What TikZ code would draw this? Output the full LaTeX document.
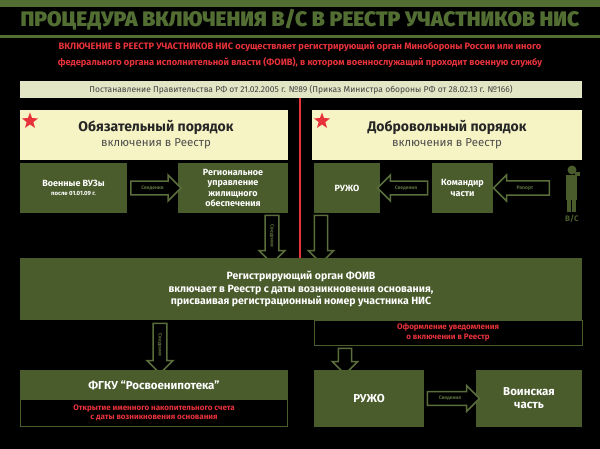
\documentclass[tikz,border=0pt]{standalone}
\usepackage{fontspec}
\setmainfont{Fira Sans}
\usetikzlibrary{shapes.geometric,shapes.arrows}
\definecolor{olive}{RGB}{74,92,44}
\definecolor{ttl}{RGB}{82,110,50}
\definecolor{beige}{RGB}{226,230,196}
\definecolor{yel}{RGB}{246,243,196}
\definecolor{rd}{RGB}{232,50,58}
\definecolor{arr}{RGB}{90,110,60}
\begin{document}
\begin{tikzpicture}[x=1pt,y=-1pt,
 gbox/.style={draw=none,fill=olive,text=white,font=\bfseries\fontsize{9}{10.5}\selectfont,align=center,inner sep=0},
 ybox/.style={fill=yel,draw=none},
 red/.style={text=rd,font=\bfseries\fontsize{8}{9.5}\selectfont,align=center},
 barr/.style={single arrow,draw=arr,line width=1.5pt,fill=black,text=arr,font=\bfseries\fontsize{5}{6}\selectfont,inner xsep=1pt,inner ysep=4pt,single arrow head extend=6pt,minimum height=#1,single arrow tip angle=90},
 rstar/.style={star,star points=5,star point ratio=2.4,fill=rd,minimum size=17pt,inner sep=0}]
\fill[black] (0,0) rectangle (600,449);
\useasboundingbox (0,0) rectangle (600,449);
\fill[ttl] (0,0) rectangle (600,7);
\fill[ttl] (0,35) rectangle (600,38);
\node[text=ttl,font=\fontspec{Fira Sans Black}\fontsize{21}{24}\selectfont] (title) at (300,20) {ПРОЦЕДУРА ВКЛЮЧЕНИЯ В/С В РЕЕСТР УЧАСТНИКОВ НИС};
\node[red,font=\bfseries\fontsize{9.3}{15.5}\selectfont] (intro) at (300,55) {ВКЛЮЧЕНИЕ В РЕЕСТР УЧАСТНИКОВ НИС осуществляет регистрирующий орган Минобороны России или иного\\федерального органа исполнительной власти (ФОИВ), в котором военнослужащий проходит военную службу};
\node[fill=beige,minimum width=562pt,minimum height=17pt,inner sep=0,font=\fontsize{8.5}{9}\selectfont,text=black!75] (law) at (301,89.5) {Постанавление Правительства РФ от 21.02.2005 г. №89 (Приказ Министра обороны РФ от 28.02.13 г. №166)};
\coordinate (lt) at (300,98); \coordinate (lb) at (300,258);
\draw[rd,line width=1.2pt] (lt) -- (lb);
% yellow boxes
\node[ybox,minimum width=268pt,minimum height=50pt,inner sep=0] (ob) at (154,135) {};
\node[ybox,minimum width=270pt,minimum height=50pt,inner sep=0] (dob) at (447,135) {};
\node[rstar] (s1) at (30,121) {};
\node[rstar] (s2) at (322,121) {};
\node[font=\bfseries\fontsize{14}{16}\selectfont,text=black!85,align=center] (obt) at (156,135) {Обязательный порядок\\[-1pt]{\mdseries\fontsize{11.5}{13}\selectfont\color{black!70} включения в Реестр}};
\node[font=\bfseries\fontsize{14}{16}\selectfont,text=black!85,align=center] (dobt) at (447,135) {Добровольный порядок\\[-1pt]{\mdseries\fontsize{11.5}{13}\selectfont\color{black!70} включения в Реестр}};
% green boxes row
\node[gbox,minimum width=107pt,minimum height=50pt] (vuz) at (73.5,188) {Военные ВУЗы\\[-1pt]{\fontsize{6}{7}\selectfont после 01.01.09 г.}};
\node[gbox,minimum width=110pt,minimum height=50pt] (reg) at (233,188) {Региональное\\управление\\жилищного\\обеспечения};
\node[gbox,minimum width=66pt,minimum height=50pt] (ruzh1) at (347,188) {РУЖО};
\node[gbox,minimum width=61pt,minimum height=50pt] (kom) at (462.5,188) {Командир\\части};
% soldier
\fill[olive] (572,170) circle (4.5);
\fill[olive] (566,175) rectangle (577,200);
\fill[olive] (567,200) rectangle (571,212);
\fill[olive] (572,200) rectangle (576,212);
\fill[olive] (575,172) rectangle (580,176);
\node[text=olive,font=\bfseries\fontsize{8}{9}\selectfont] (vs) at (572,219) {В/С};
\node[barr=50pt] (a1) at (152.5,188) {Сведения};
\node[barr=50pt,shape border rotate=180] (a2) at (406,188) {Сведения};
\node[barr=56pt,shape border rotate=180] (a3) at (525,188) {Рапорт};
\node[barr=48pt,rotate=-90] (a4) at (272,236) {Сведения};
\node[barr=48pt,rotate=-90] (a5) at (321,236) {\phantom{Св}};
% big box
\node[gbox,minimum width=562pt,minimum height=62pt,font=\bfseries\fontsize{10.5}{12.5}\selectfont] (foiv) at (301,289) {Регистрирующий орган ФОИВ\\включает в Реестр с даты возникновения основания,\\присваивая регистрационный номер участника НИС};
\node[draw=olive,line width=1pt,fill=black,minimum width=268pt,minimum height=25pt,inner sep=0,red] (uv) at (448,332.5) {Оформление уведомления\\о включении в Реестр};
\node[barr=50pt,rotate=-90] (a6) at (160,345) {Сведения};
\node[barr=26pt,rotate=-90] (a7) at (345,358) {\phantom{Св}};
% bottom
\node[gbox,minimum width=268pt,minimum height=57pt] (fgku) at (154,398.5) {};
\node[text=white,font=\bfseries\fontsize{11.5}{13}\selectfont] (fgkut) at (154,385) {ФГКУ “Росвоенипотека”};
\node[fill=black,minimum width=266pt,minimum height=26pt,inner sep=0,red] (acc) at (154,413) {Открытие именного накопительного счета\\с даты возникновения основания};
\node[gbox,minimum width=110pt,minimum height=57pt,font=\bfseries\fontsize{11.5}{13}\selectfont] (ruzh2) at (369,398.5) {РУЖО};
\node[gbox,minimum width=106pt,minimum height=57pt,font=\bfseries\fontsize{11.5}{13}\selectfont] (vch) at (529,398.5) {Воинская\\часть};
\node[barr=52pt] (a8) at (450,398.5) {Сведения};
\end{tikzpicture}
\end{document}
